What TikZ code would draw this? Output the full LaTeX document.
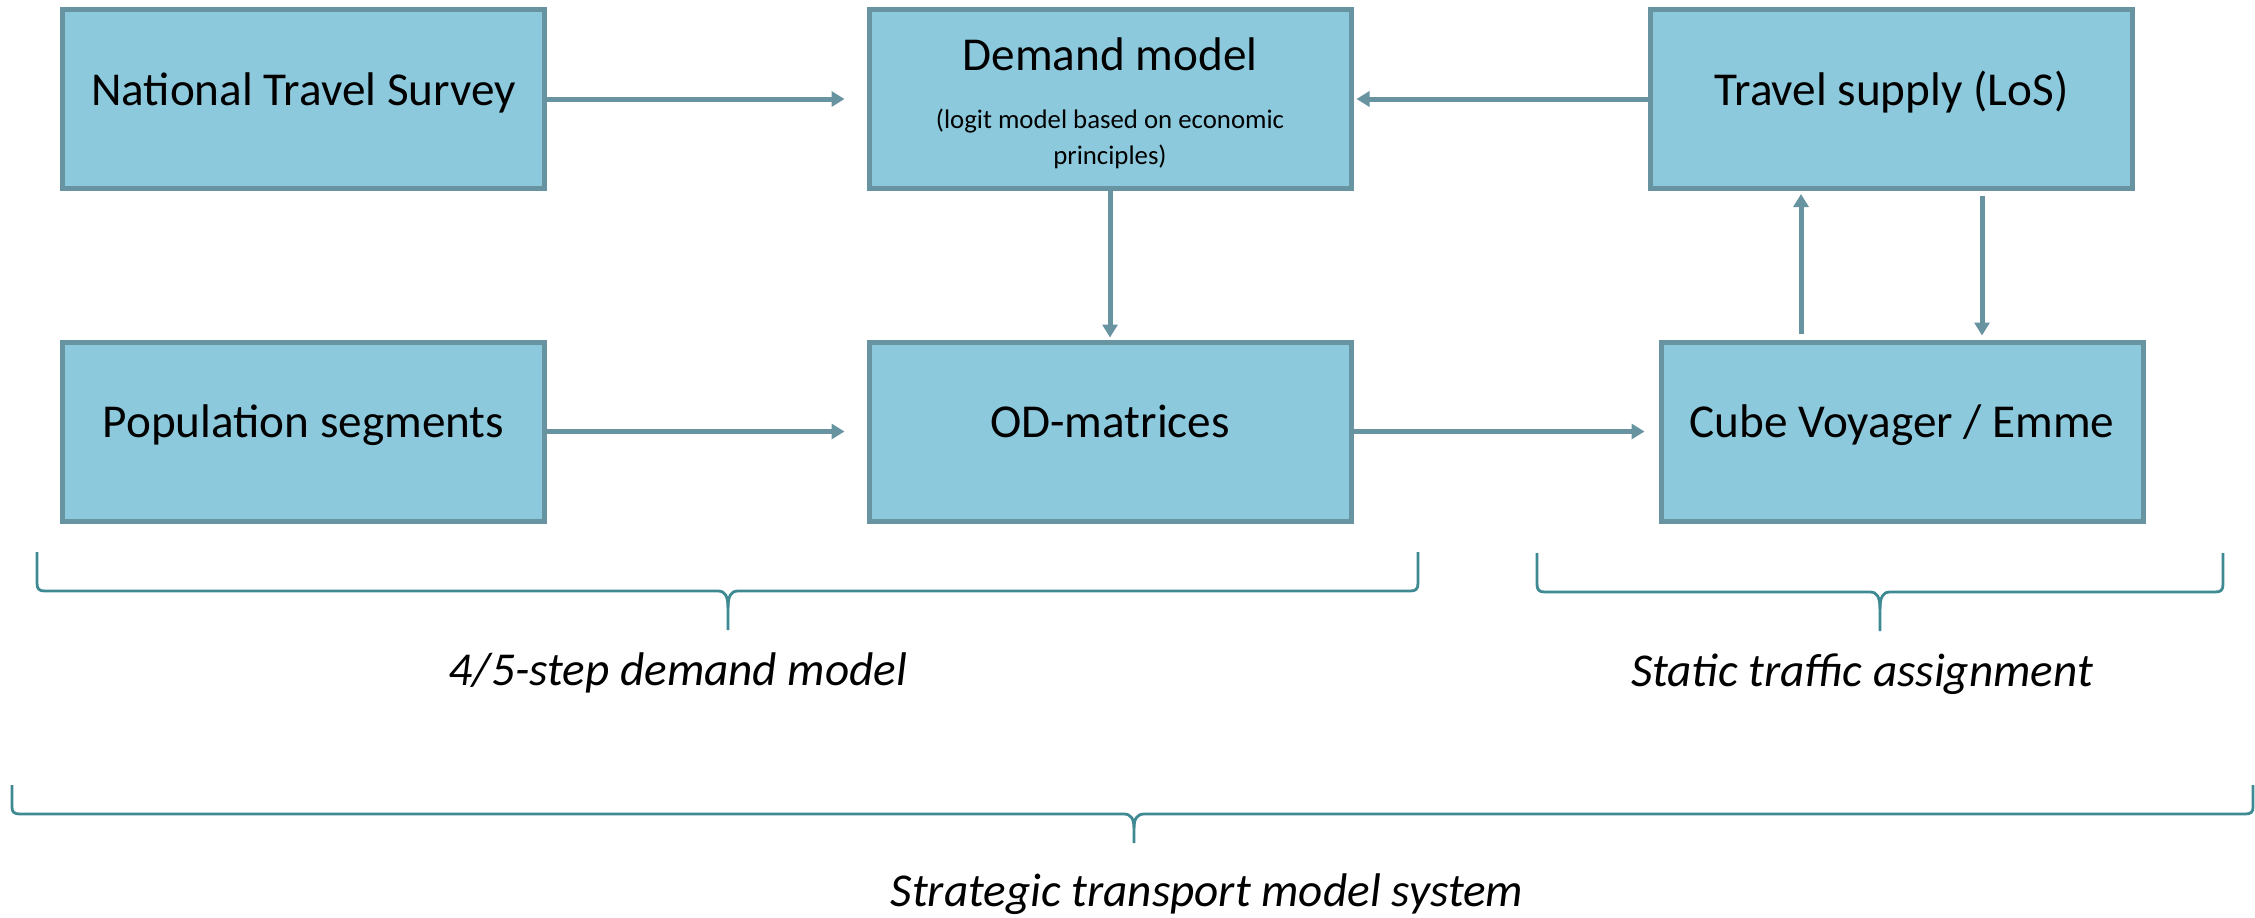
\documentclass[tikz,border=0pt]{standalone}
\usepackage{fontspec}
\setmainfont{Carlito}
\usetikzlibrary{arrows.meta}
\definecolor{boxfill}{HTML}{8CC9DC}
\definecolor{boxline}{HTML}{6894A2}
\definecolor{bracecol}{HTML}{3F8A92}
\tikzset{
  stagebox/.style={draw=boxline, fill=boxfill, line width=2.5pt,
    minimum width=241pt, minimum height=89.5pt, inner sep=0pt,
    font=\fontsize{23.6pt}{28pt}\selectfont, text height=0.632em, text depth=0pt},
  flow/.style={draw=boxline, line width=2.5pt, -{Triangle[length=6.5pt,width=7.5pt]}},
  curly/.style={draw=bracecol, line width=1.4pt, line join=round},
  grouplabel/.style={anchor=base, font=\fontsize{23.6pt}{28pt}\selectfont\itshape, inner sep=0pt},
}
\begin{document}
\begin{tikzpicture}[x=0.5pt, y=-0.5pt]
\useasboundingbox (0,0) rectangle (2255,917);

% boxes of the model chain
\node[stagebox] (nts) at (303.5,99) {National Travel Survey};
\node[stagebox] (dem) at (1110,99) {};
\node[stagebox] (sup) at (1891.5,99) {Travel supply (LoS)};
\node[stagebox] (pop) at (303.5,431.5) {Population segments};
\node[stagebox] (od)  at (1110,431.5) {OD-matrices};
\node[stagebox] (cube) at (1902,431.5) {Cube Voyager / Emme};

% text of the demand model box
\node[anchor=base, inner sep=0pt, font=\fontsize{23.6pt}{28pt}\selectfont] (demtitle) at (1110,70) {Demand model};
\node[anchor=base, inner sep=0pt, font=\fontsize{13.4pt}{16pt}\selectfont] (demsub1) at (1110,128) {(logit model based on economic};
\node[anchor=base, inner sep=0pt, font=\fontsize{13.4pt}{16pt}\selectfont] (demsub2) at (1110,164) {principles)};

% columns of the two vertical links between supply and assignment
\coordinate (upcol) at (1801,0);
\coordinate (downcol) at (1982,0);

% links
\draw[flow, shorten >=11pt] (nts.east) -- (dem.west);
\draw[flow, shorten >=1.5pt] (sup.west) -- (dem.east);
\draw[flow, shorten >=1pt] (dem.south) -- (od.north);
\draw[flow, shorten >=11pt] (pop.east) -- (od.west);
\draw[flow, shorten >=7pt] (od.east) -- (cube.west);
\draw[flow, shorten <=3pt, shorten >=1.5pt] (cube.north -| upcol) -- (sup.south -| upcol);
\draw[flow, shorten <=2.5pt, shorten >=2pt] (sup.south -| downcol) -- (cube.north -| downcol);

% brace under the demand side
\draw[curly] (37,552) -- (37,583) .. controls (37,589) and (39,591) .. (45,591) -- (718,591)
  .. controls (725,591) and (728,596) .. (728,608) -- (728,630);
\draw[curly] (728,608) .. controls (728,596) and (731,591) .. (738,591) -- (1410,591)
  .. controls (1416,591) and (1418,589) .. (1418,583) -- (1418,552);
\node[grouplabel] (lbldem) at (678,685) {4/5-step demand model};

% brace under the assignment side
\draw[curly] (1537,553) -- (1537,584) .. controls (1537,590) and (1539,592) .. (1545,592) -- (1870,592)
  .. controls (1877,592) and (1880,597) .. (1880,609) -- (1880,631);
\draw[curly] (1880,609) .. controls (1880,597) and (1883,592) .. (1890,592) -- (2215,592)
  .. controls (2221,592) and (2223,590) .. (2223,584) -- (2223,553);
\node[grouplabel] (lblsta) at (1862,686) {Static traffic assignment};

% brace over the whole system
\draw[curly] (12,785) -- (12,807) .. controls (12,812) and (14,814) .. (20,814) -- (1124,814)
  .. controls (1131,814) and (1134,819) .. (1134,828) -- (1134,843);
\draw[curly] (1134,828) .. controls (1134,819) and (1137,814) .. (1144,814) -- (2245,814)
  .. controls (2251,814) and (2253,812) .. (2253,807) -- (2253,785);
\node[grouplabel] (lblsys) at (1207,906) {Strategic transport model system};
\end{tikzpicture}
\end{document}
